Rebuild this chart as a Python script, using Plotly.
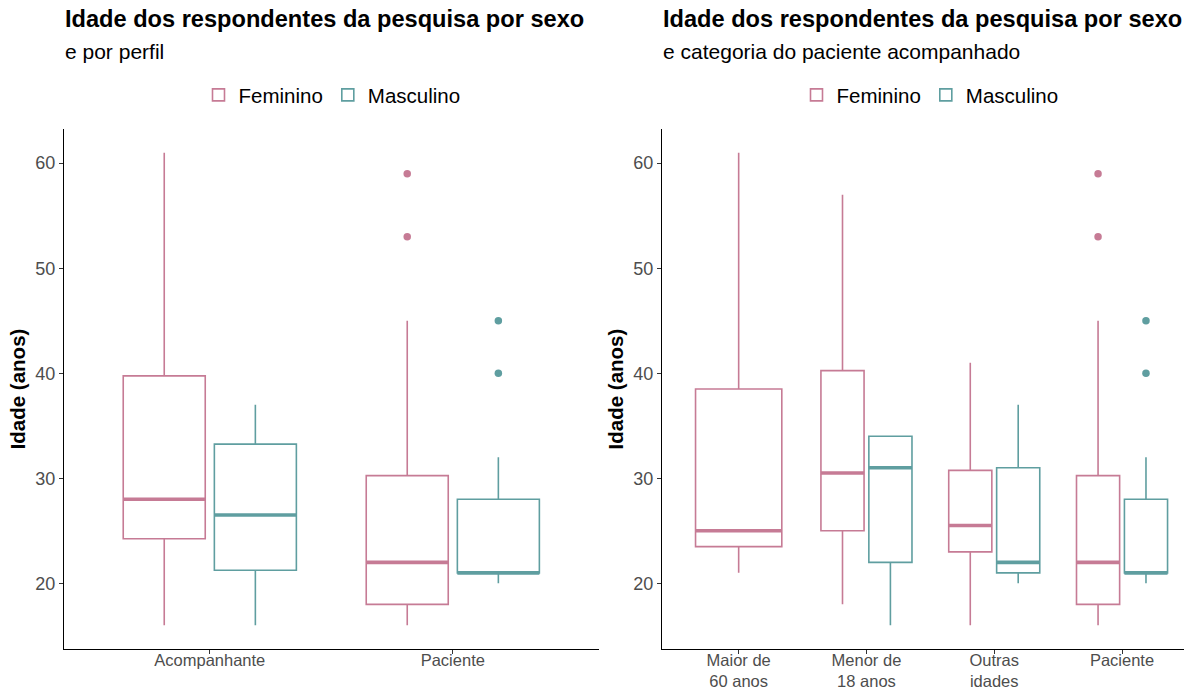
import plotly.graph_objects as go

# ---- data -------------------------------------------------------------
sexes = ["Feminino", "Masculino"]

left_categories = ["Acompanhante", "Paciente"]
left_fem_lower = [16, 16]
left_fem_q1 = [24.25, 18]
left_fem_median = [28, 22]
left_fem_q3 = [39.75, 30.25]
left_fem_upper = [61, 45]
left_mas_lower = [16, 20]
left_mas_q1 = [21.25, 21]
left_mas_median = [26.5, 21]
left_mas_q3 = [33.25, 28]
left_mas_upper = [37, 32]
left_fem_outliers = [[], [59, 53]]
left_mas_outliers = [[], [45, 40]]

right_categories = ["Maior de<br>60 anos", "Menor de<br>18 anos", "Outras<br>idades", "Paciente"]
right_fem_lower = [21, 18, 16, 16]
right_fem_q1 = [23.5, 25, 23, 18]
right_fem_median = [25, 30.5, 25.5, 22]
right_fem_q3 = [38.5, 40.25, 30.75, 30.25]
right_fem_upper = [61, 57, 41, 45]
right_mas_lower = [None, 16, 20, 20]
right_mas_q1 = [None, 22, 21, 21]
right_mas_median = [None, 31, 22, 21]
right_mas_q3 = [None, 34, 31, 28]
right_mas_upper = [None, 34, 37, 32]
right_fem_outliers = [[], [], [], [59, 53]]
right_mas_outliers = [[], [], [], [45, 40]]

y_ticks = [20, 30, 40, 50, 60]

# ---- style ------------------------------------------------------------
COLORS = {"Feminino": "#C67B95", "Masculino": "#5F9EA0"}
FONT = "Liberation Sans, Arial, sans-serif"
TICK_COLOR = "#4D4D4D"
DODGE = 0.75      # total width shared by the boxes of one category
PADDING = 0.1     # space between dodged boxes

W, H = 1184, 693
PLOT_TOP, PLOT_BOTTOM = 129, 649


def px_x(v):
    return v / W


def px_y(v):
    return 1 - v / H


fig = go.Figure()


def add_panel(cats, stats, outliers, xaxis, yaxis, legend):
    """stats: {sex: (lower, q1, median, q3, upper)}"""
    shown = set()
    for i, _ in enumerate(cats):
        present = [s for s in sexes if stats[s][2][i] is not None]
        n = len(present)
        slot = DODGE / n
        width = slot * (1 - PADDING)
        for k, sex in enumerate(present):
            lo, q1, med, q3, up = (a[i] for a in stats[sex])
            center = i - DODGE / 2 + slot * (k + 0.5)
            color = COLORS[sex]
            fig.add_trace(go.Box(
                x=[center], q1=[q1], median=[med], q3=[q3],
                lowerfence=[lo], upperfence=[up],
                width=width, whiskerwidth=0,
                line=dict(color=color, width=1.6),
                fillcolor="rgba(255,255,255,0)",
                name=sex, legendgroup=f"{legend}-{sex}",
                showlegend=sex not in shown, legend=legend,
                boxpoints=False, hoverinfo="skip",
                xaxis=xaxis, yaxis=yaxis,
            ))
            shown.add(sex)
            # heavier median bar
            fig.add_trace(go.Scatter(
                x=[center - width / 2, center + width / 2], y=[med, med],
                mode="lines", line=dict(color=color, width=3.6),
                showlegend=False, hoverinfo="skip",
                xaxis=xaxis, yaxis=yaxis,
            ))
            pts = outliers[sex][i]
            if pts:
                fig.add_trace(go.Scatter(
                    x=[center] * len(pts), y=pts, mode="markers",
                    marker=dict(color=color, size=7.5),
                    showlegend=False, hoverinfo="skip",
                    xaxis=xaxis, yaxis=yaxis,
                ))


add_panel(
    left_categories,
    {"Feminino": (left_fem_lower, left_fem_q1, left_fem_median, left_fem_q3, left_fem_upper),
     "Masculino": (left_mas_lower, left_mas_q1, left_mas_median, left_mas_q3, left_mas_upper)},
    {"Feminino": left_fem_outliers, "Masculino": left_mas_outliers},
    "x", "y", "legend",
)
add_panel(
    right_categories,
    {"Feminino": (right_fem_lower, right_fem_q1, right_fem_median, right_fem_q3, right_fem_upper),
     "Masculino": (right_mas_lower, right_mas_q1, right_mas_median, right_mas_q3, right_mas_upper)},
    {"Feminino": right_fem_outliers, "Masculino": right_mas_outliers},
    "x2", "y2", "legend2",
)

y_domain = [px_y(PLOT_BOTTOM), px_y(PLOT_TOP)]
axis_common = dict(
    showline=True, linecolor="black", linewidth=1.3,
    ticks="outside", ticklen=4, tickcolor="#333333", tickwidth=1,
    showgrid=False, zeroline=False, automargin=False,
    tickfont=dict(family=FONT, size=18, color=TICK_COLOR),
)
x_common = dict(
    axis_common, ticklabelstandoff=-8,
    tickfont=dict(family=FONT, size=16.5, color=TICK_COLOR),
)
y_common = dict(
    axis_common, range=[13.75, 63.25], tickvals=y_ticks,
    title=dict(text="<b>Idade (anos)</b>", font=dict(family=FONT, size=20.5, color="black"),
               standoff=4),
)
legend_common = dict(
    orientation="h", y=px_y(95), yanchor="middle", xanchor="center",
    font=dict(family=FONT, size=20.5, color="black"), itemwidth=30,
    tracegroupgap=0, bgcolor="rgba(0,0,0,0)",
)
title_font = dict(family=FONT, size=23.6, color="black")
subtitle_font = dict(family=FONT, size=21, color="black")
TITLE_Y, SUBTITLE_Y = 19, 52

fig.update_layout(
    width=W, height=H,
    margin=dict(l=0, r=0, t=0, b=0),
    paper_bgcolor="white", plot_bgcolor="white",
    boxmode="overlay",
    font=dict(family=FONT),
    xaxis=dict(x_common, domain=[px_x(64), px_x(598.6)], range=[-0.6, 1.6],
               tickvals=list(range(len(left_categories))), ticktext=left_categories,
               anchor="y"),
    yaxis=dict(y_common, domain=y_domain, anchor="x"),
    xaxis2=dict(x_common, domain=[px_x(662), 1.0], range=[-0.6, 3.485],
                tickvals=list(range(len(right_categories))), ticktext=right_categories,
                anchor="y2"),
    yaxis2=dict(y_common, domain=y_domain, anchor="x2"),
    legend=dict(legend_common, x=px_x(332)),
    legend2=dict(legend_common, x=px_x(930)),
    annotations=[
        dict(text="<b>Idade dos respondentes da pesquisa por sexo</b>", xref="paper", yref="paper",
             x=px_x(63), y=px_y(TITLE_Y), xanchor="left", yanchor="middle", showarrow=False,
             font=title_font),
        dict(text="e por perfil", xref="paper", yref="paper",
             x=px_x(63), y=px_y(SUBTITLE_Y), xanchor="left", yanchor="middle", showarrow=False,
             font=subtitle_font),
        dict(text="<b>Idade dos respondentes da pesquisa por sexo</b>", xref="paper", yref="paper",
             x=px_x(661), y=px_y(TITLE_Y), xanchor="left", yanchor="middle", showarrow=False,
             font=title_font),
        dict(text="e categoria do paciente acompanhado", xref="paper", yref="paper",
             x=px_x(661), y=px_y(SUBTITLE_Y), xanchor="left", yanchor="middle", showarrow=False,
             font=subtitle_font),
    ],
)

fig.write_html("out.html")
